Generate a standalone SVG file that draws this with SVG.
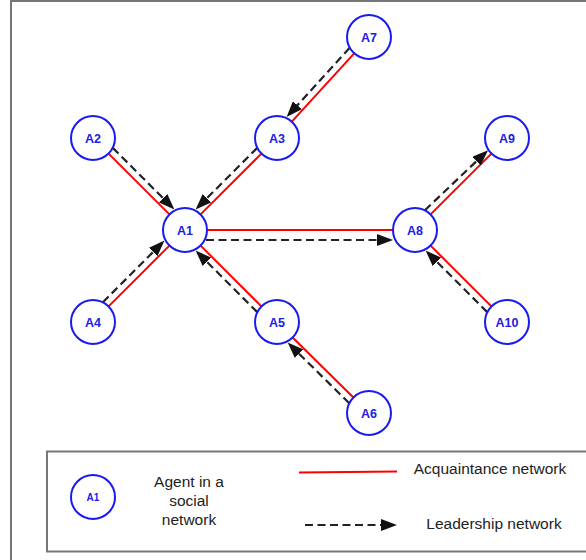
<svg xmlns="http://www.w3.org/2000/svg" width="586" height="560" viewBox="0 0 586 560">
<style>
.frame{fill:none;stroke:#777;stroke-width:2}
.node circle{fill:#fff;stroke:#1a1af0;stroke-width:2}
.node text{font-family:"Liberation Sans",Arial,sans-serif;font-size:12.5px;font-weight:bold;fill:#2020e0;text-anchor:middle}
.acq{stroke:#ff0000;stroke-width:2;fill:none}
.lead{stroke:#222;stroke-width:2.2;fill:none;stroke-dasharray:8 4.5;marker-end:url(#arr)}
.lg{font-family:"Liberation Sans",Arial,sans-serif;font-size:15.5px;fill:#222;text-anchor:middle}
</style>
<defs>
<marker id="arr" viewBox="0 0 16 12" markerWidth="16" markerHeight="12" refX="5" refY="6" orient="auto" markerUnits="userSpaceOnUse">
<path d="M0,0 L16,6 L0,12 Z" fill="#111"/>
</marker>
</defs>
<rect x="0" y="0" width="586" height="560" fill="#fff"/>
<rect class="frame" x="11" y="1" width="600" height="600"/>
<g id="connectors">
<line class="acq" x1="108.6" y1="153.6" x2="169.4" y2="214.4"/>
<line class="acq" x1="261.4" y1="153.6" x2="200.6" y2="214.4"/>
<line class="acq" x1="354.2" y1="53.3" x2="291.8" y2="121.7"/>
<line class="acq" x1="108.6" y1="306.4" x2="169.4" y2="245.6"/>
<line class="acq" x1="261.4" y1="306.4" x2="200.6" y2="245.6"/>
<line class="acq" x1="353.4" y1="397.5" x2="292.6" y2="337.5"/>
<line class="acq" x1="207" y1="230" x2="393" y2="230"/>
<line class="acq" x1="430.6" y1="214.4" x2="491.4" y2="153.6"/>
<line class="acq" x1="491.4" y1="306.4" x2="430.6" y2="245.6"/>
<path class="lead" d="M112.8,147.9 L166.6,201.7"/>
<path class="lead" d="M257.2,147.9 L203.4,201.7"/>
<path class="lead" d="M349.7,47.8 L294.0,108.9"/>
<path class="lead" d="M102.9,302.2 L156.7,248.4"/>
<path class="lead" d="M257.2,312.1 L203.4,258.3"/>
<path class="lead" d="M349.2,403.2 L295.5,350.2"/>
<path class="lead" d="M206,240 L382,240"/>
<path class="lead" d="M424.9,210.2 L480.1,157.8"/>
<path class="lead" d="M487.2,312.1 L433.4,258.3"/>
</g>
<g id="A1" class="node"><circle cx="185" cy="230" r="22"/><text x="185" y="234.5">A1</text></g>
<g id="A2" class="node"><circle cx="93" cy="138" r="22"/><text x="93" y="142.5">A2</text></g>
<g id="A3" class="node"><circle cx="277" cy="138" r="22"/><text x="277" y="142.5">A3</text></g>
<g id="A4" class="node"><circle cx="93" cy="322" r="22"/><text x="93" y="326.5">A4</text></g>
<g id="A5" class="node"><circle cx="277" cy="322" r="22"/><text x="277" y="326.5">A5</text></g>
<g id="A6" class="node"><circle cx="369" cy="413" r="22"/><text x="369" y="417.5">A6</text></g>
<g id="A7" class="node"><circle cx="369" cy="37" r="22"/><text x="369" y="41.5">A7</text></g>
<g id="A8" class="node"><circle cx="415" cy="230" r="22"/><text x="415" y="234.5">A8</text></g>
<g id="A9" class="node"><circle cx="507" cy="138" r="22"/><text x="507" y="142.5">A9</text></g>
<g id="A10" class="node"><circle cx="507" cy="322" r="22"/><text x="507" y="326.5">A10</text></g>
<g id="legend">
<rect class="frame" x="47" y="451.5" width="600" height="100"/>
<g id="legend-node" class="node"><circle cx="93" cy="497" r="22"/><text x="93" y="500.5" style="font-size:10px">A1</text></g>
<text class="lg" x="189" y="487">Agent in a</text>
<text class="lg" x="189" y="506">social</text>
<text class="lg" x="189" y="525">network</text>
<line class="acq" x1="299" y1="472.5" x2="397" y2="471.5"/>
<text class="lg" x="490" y="474">Acquaintance network</text>
<path class="lead" d="M305,525 L386,525"/>
<text class="lg" x="494" y="529">Leadership network</text>
</g>
</svg>
